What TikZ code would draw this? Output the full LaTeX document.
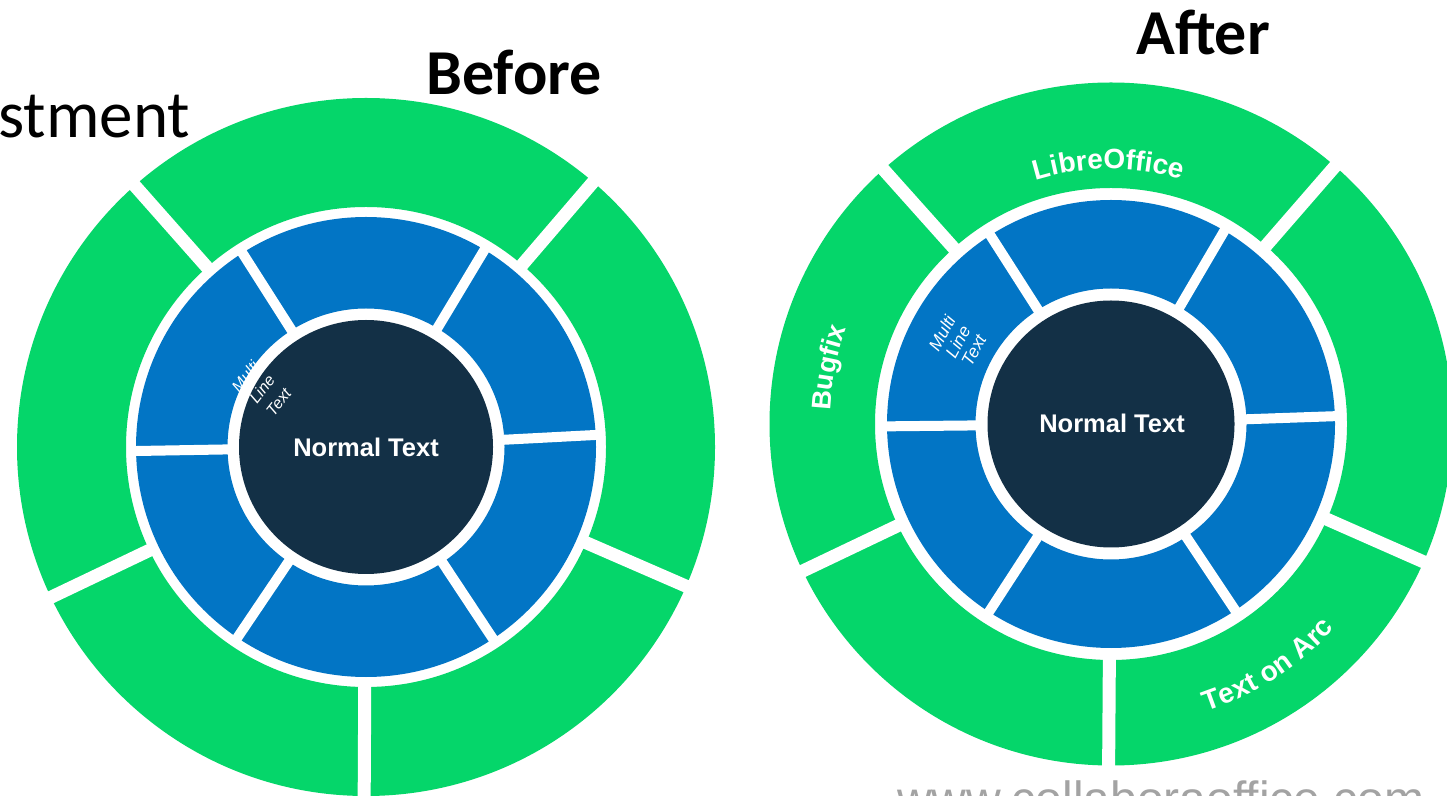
\documentclass[tikz,border=0pt]{standalone}
\usepackage{fontspec}
\setmainfont{Carlito}
\newfontfamily\arialf{Liberation Sans}
\usetikzlibrary{decorations.text}
\definecolor{ringgreen}{HTML}{05D66A}
\definecolor{ringblue}{HTML}{0275C5}
\definecolor{coredark}{HTML}{133046}
\definecolor{wwwgray}{HTML}{A3A3A3}
\newcommand\arcfmt{\arialf\bfseries\fontsize{28}{30}\selectfont\color{white}}
\newcommand\bugfmt{\arialf\bfseries\fontsize{27}{30}\selectfont\color{white}}
\begin{document}
\begin{tikzpicture}[x=1pt,y=1pt,
  gapblue/.style={white, line width=10pt},
  gapgreen/.style={white, line width=13pt},
  titlebold/.style={font=\bfseries\fontsize{64}{64}\selectfont, anchor=base west, inner sep=0},
  titlereg/.style={font=\fontsize{67}{67}\selectfont, anchor=base west, inner sep=0},
  coretext/.style={font=\arialf\bfseries\fontsize{25.5}{26}\selectfont, text=white, anchor=base, inner sep=0},
  multitext/.style={align=center, text=white, inner sep=0}
]
\clip (0,0) rectangle (1447,795);
\fill[white] (0,0) rectangle (1447,795);

\coordinate (B) at (366,348);
\coordinate (A) at (1111,371);

% ---------- Before ----------
\fill[ringgreen, even odd rule] (B) circle[radius=349] (B) circle[radius=240];
\fill[ringblue, even odd rule] (B) circle[radius=230] (B) circle[radius=138.5];
\fill[coredark] (B) circle[radius=127];
\foreach \a in {3,59,122.5,181,236,303.5}
  \draw[gapblue] ([shift={(\a:135)}]B) -- ([shift={(\a:233)}]B);
\foreach \a in {49.4,131.5,205.5,269.7,336.5}
  \draw[gapgreen] ([shift={(\a:236)}]B) -- ([shift={(\a:365)}]B);

% ---------- After ----------
\fill[ringgreen, even odd rule] (A) circle[radius=341.5] (A) circle[radius=236];
\fill[ringblue, even odd rule] (A) circle[radius=224] (A) circle[radius=135.5];
\fill[coredark] (A) circle[radius=123.5];
\foreach \a in {2,59.6,122.6,180.6,237,303.7}
  \draw[gapblue] ([shift={(\a:132)}]A) -- ([shift={(\a:227)}]A);
\foreach \a in {49,131.8,205.5,269.6,336.2}
  \draw[gapgreen] ([shift={(\a:232)}]A) -- ([shift={(\a:360)}]A);

% ---------- titles ----------
\node[titlereg] (stm) at (-2,657) {stment};
\node[titlebold] (bef) at (426,700) {Before};
\node[titlebold] (aft) at (1136,740) {After};

% ---------- centre texts ----------
\node[coretext] (ntb) at (366,338) {Normal Text};
\node[coretext] (nta) at (1112,362) {Normal Text};

% ---------- multi line texts ----------
\node[multitext, rotate=52, font=\arialf\itshape\fontsize{16}{21}\selectfont] (mlb)
  at ([shift={(151:119)}]B) {Multi\\Line\\Text};
\node[multitext, rotate=61.7, font=\arialf\itshape\fontsize{17.5}{18}\selectfont] (mla)
  at ([shift={(151.7:174)}]A) {Multi\\Line\\Text};

% ---------- texts on arcs ----------
\path[decorate, decoration={text along path, text align=center,
      text={|\arcfmt|LibreOffice}}]
  ([shift={(125:255)}]A) arc[start angle=125, end angle=56, radius=255];
\path[decorate, decoration={text along path, text align=center,
      text={|\bugfmt|Bugfix}}]
  ([shift={(200:281)}]A) arc[start angle=200, end angle=137.4, radius=281];
\path[decorate, decoration={text along path, text align=center,
      text={|\arcfmt|Text on Arc}}]
  ([shift={(270:303)}]A) arc[start angle=270, end angle=336, radius=303];

% ---------- footer ----------
\node[anchor=base west, inner sep=0, text=wwwgray, font=\arialf\fontsize{48}{48}\selectfont] (www)
  at (897,-20) {www.collaboraoffice.com};
\end{tikzpicture}
\end{document}
